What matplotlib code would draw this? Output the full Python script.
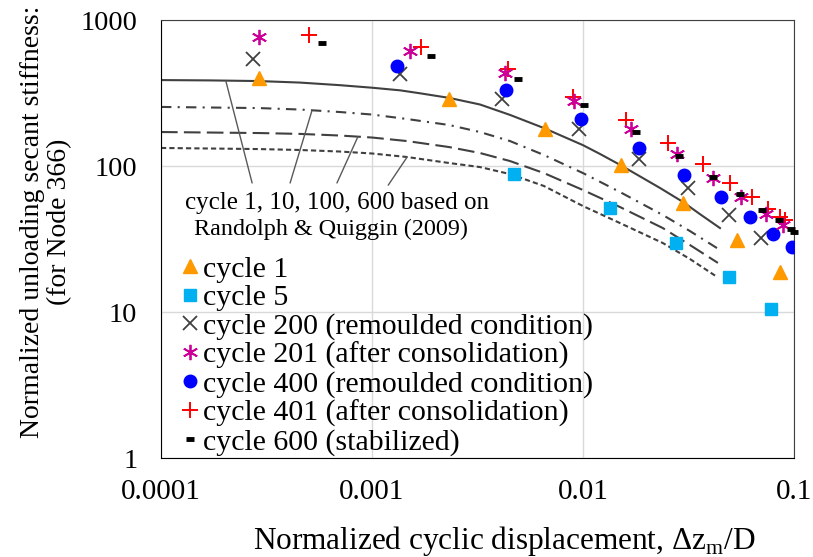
import numpy as np
import matplotlib
matplotlib.use('Agg')
from matplotlib import pyplot as plt

plt.rcParams['font.family'] = ['Liberation Serif', 'DejaVu Serif']
plt.rcParams['font.size'] = 20

# measured points, x = normalized cyclic displacement, y = normalized secant stiffness
c1_x = [2.91e-4, 2.32e-3, 6.61e-3, 1.51e-2, 2.98e-2, 5.37e-2, 8.55e-2]
c1_y = [401, 288, 179, 101, 55.8, 31.3, 18.8]

c5_x = [4.71e-3, 1.342e-2, 2.76e-2, 4.92e-2, 7.78e-2]
c5_y = [88.1, 51.6, 29.7, 17.4, 10.5]

c200_x = [2.73e-4, 1.36e-3, 4.13e-3, 9.57e-3, 1.842e-2, 3.15e-2, 4.92e-2, 6.98e-2]
c200_y = [541, 427, 288, 179, 112, 70.7, 46.5, 32.1]

c201_x = [2.91e-4, 1.51e-3, 4.27e-3, 9.06e-3, 1.689e-2, 2.79e-2, 4.13e-2, 5.61e-2, 7.37e-2, 8.87e-2]
c201_y = [765, 618, 434, 279, 180, 121, 82.8, 61.8, 46.9, 39.6]

c400_x = [1.314e-3, 4.32e-3, 9.78e-3, 1.842e-2, 3.01e-2, 4.51e-2, 6.19e-2, 7.95e-2, 9.78e-2]
c400_y = [484, 332, 210, 133, 86.8, 61.8, 45.0, 34.5, 27.9]

c401_x = [5.03e-4, 1.71e-3, 4.41e-3, 8.97e-3, 1.599e-2, 2.53e-2, 3.71e-2, 4.98e-2, 6.32e-2, 7.53e-2, 8.58e-2, 9.06e-2]
c401_y = [796, 653, 462, 297, 207, 144, 103, 77.0, 61.4, 51.1, 45.0, 42.7]

c600_x = [5.79e-4, 1.90e-3, 4.92e-3, 1.011e-2, 1.783e-2, 2.85e-2, 4.13e-2, 5.55e-2, 7.05e-2, 8.49e-2, 9.68e-2, 0.1]
c600_y = [701, 567, 397, 262, 172, 117, 84.1, 64.0, 50.0, 42.5, 37.0, 35.3]

# Randolph & Quiggin (2009) curves for cycle 1, 10, 100, 600
rq1_x = [1e-4, 1.71e-4, 2.91e-4, 4.56e-4, 7.05e-4, 1e-3, 1.36e-3, 1.69e-3, 2.32e-3, 3.25e-3,
         4.51e-3, 6.53e-3, 1e-2, 1.204e-2, 1.497e-2, 2.32e-2, 2.98e-2, 3.58e-2, 4.46e-2]
rq1_y = [388, 386, 382, 373, 358, 344, 330, 315, 293, 264,
         224, 182, 139, 121, 102, 70.7, 56.7, 46.9, 37.6]

rq10_x = [1e-4, 2.91e-4, 4.56e-4, 7.05e-4, 1e-3, 1.466e-3, 2.32e-3, 3.25e-3, 4.51e-3, 6.53e-3,
          1e-2, 1.497e-2, 2.39e-2, 3.21e-2, 4.32e-2]
rq10_y = [254, 249.5, 243.8, 234.4, 225.3, 210, 191, 171, 148.3, 119,
          89.5, 66.4, 46.2, 35.9, 27.4]

rq100_x = [1e-4, 2.91e-4, 4.56e-4, 7.05e-4, 1e-3, 1.466e-3, 2.32e-3, 3.25e-3, 4.51e-3, 6.53e-3,
           1e-2, 1.497e-2, 2.39e-2, 3.21e-2, 4.36e-2]
rq100_y = [171, 168.3, 166, 161.8, 156.8, 148.3, 134.9, 122.8, 108.2, 89.5,
           68.5, 52.4, 37.6, 28.8, 21.7]

rq600_x = [1e-4, 2.91e-4, 4.56e-4, 7.05e-4, 1e-3, 1.466e-3, 2.32e-3, 3.25e-3, 4.51e-3, 6.53e-3,
           1e-2, 1.497e-2, 2.39e-2, 3.21e-2, 4.32e-2]
rq600_y = [133, 130.7, 128.8, 125.7, 121.9, 115.3, 104.9, 98.4, 88.1, 73.0,
           53.2, 40.7, 29.7, 23.1, 17.4]

x_ticks = [0.0001, 0.001, 0.01, 0.1]
x_labels = ['0.0001', '0.001', '0.01', '0.1']
y_ticks = [1, 10, 100, 1000]
y_labels = ['1', '10', '100', '1000']

fig = plt.figure(figsize=(8.13, 5.57), dpi=100)
ax = fig.add_axes([0.198, 0.1777, 0.7786, 0.7863])

curve_col = '#404040'
ax.plot(rq1_x, rq1_y, color=curve_col, lw=1.5, ls='-')
ax.plot(rq10_x, rq10_y, color=curve_col, lw=1.5, ls=(0, (5, 3, 1, 3)))
ax.plot(rq100_x, rq100_y, color=curve_col, lw=1.5, ls=(0, (8, 3)))
ax.plot(rq600_x, rq600_y, color=curve_col, lw=1.5, ls=(0, (2.5, 1.5)))

ax.plot(c1_x, c1_y, ls='none', marker='^', ms=10, color='#FF9900', label='cycle 1', zorder=3)
ax.plot(c5_x, c5_y, ls='none', marker='s', ms=8, color='#00B0F0', label='cycle 5', zorder=3)
ax.plot(c200_x, c200_y, ls='none', marker='x', ms=10, mew=1.3, color='#404040',
        label='cycle 200 (remoulded condition)', zorder=3)
ax.plot(c201_x, c201_y, ls='none', marker=(6, 2, 0), ms=11, mew=1.3, color='#CC0099',
        label='cycle 201 (after consolidation)', zorder=5)
ax.plot(c400_x, c400_y, ls='none', marker='o', ms=9, color='#0000FF',
        label='cycle 400 (remoulded condition)', zorder=3)
ax.plot(c401_x, c401_y, ls='none', marker='+', ms=12, mew=1.4, color='#FF0000',
        label='cycle 401 (after consolidation)', zorder=4)
ax.plot(c600_x, c600_y, ls='none', marker='_', ms=6, mew=3.5, color='black',
        label='cycle 600 (stabilized)', zorder=6, clip_on=False)

# leader lines from the note to each curve
leader_col = '#595959'
leaders = [((2.03e-4, 382), (0.144, 0.628)),
           ((5.2e-4, 241), (0.204, 0.628)),
           ((8.58e-4, 159), (0.278, 0.628)),
           ((1.466e-3, 115), (0.359, 0.623))]
for xy, xyt in leaders:
    ax.annotate('', xy=xy, xytext=xyt, textcoords='axes fraction',
                arrowprops=dict(arrowstyle='-', color=leader_col, lw=1, shrinkA=0, shrinkB=0))

ax.text(0.278, 0.583, 'cycle 1, 10, 100, 600 based on', transform=ax.transAxes,
        ha='center', va='center', fontsize=18)
ax.text(0.269, 0.523, 'Randolph & Quiggin (2009)', transform=ax.transAxes,
        ha='center', va='center', fontsize=17.4)

ax.set_xscale('log')
ax.set_yscale('log')
ax.set_xlim(1e-4, 0.1)
ax.set_ylim(1, 1000)
ax.set_xticks(x_ticks)
ax.set_xticklabels(x_labels)
ax.set_yticks(y_ticks)
ax.set_yticklabels(y_labels)
ax.minorticks_off()
ax.tick_params(axis='x', length=0, pad=15, labelsize=21)
ax.tick_params(axis='y', length=0, pad=17, labelsize=20.5)
ax.grid(True, color='#D9D9D9', lw=1)
ax.set_axisbelow(True)
for side in ['left', 'bottom']:
    ax.spines[side].set_color('black')
for side in ['top', 'right']:
    ax.spines[side].set_color('#404040')

ax.set_xlabel('Normalized cyclic displacement, Δz$_\\mathregular{m}$/D', fontsize=22.5)
ax.xaxis.set_label_coords(0.543, -0.151)
ax.set_ylabel('Normalized unloading secant stiffness:\n(for Node 366)', linespacing=1.1)
ax.yaxis.set_label_coords(-0.141, 0.539)

leg = ax.legend(loc='upper left', bbox_to_anchor=(0.0152, 0.489), frameon=False,
                handlelength=0.5, handletextpad=0.2, labelspacing=0.055, borderaxespad=0,
                fontsize=21.5)

fig.savefig('out.png', dpi=100)
